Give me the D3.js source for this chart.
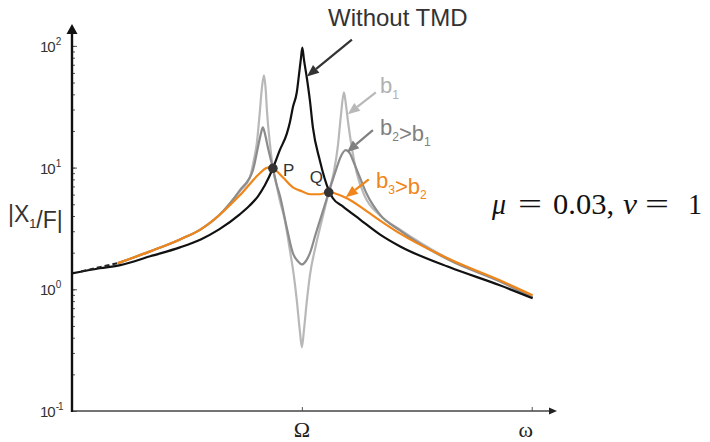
<!DOCTYPE html>
<html>
<head>
<meta charset="utf-8">
<script src="https://cdn.jsdelivr.net/npm/d3@7"></script>
<style>
  body { margin: 0; background: #fff; }
  text { font-family: "Liberation Sans", Arial, sans-serif; }
</style>
</head>
<body>
<div class="center"></div>
<script>
// frequency ratio r (Ω = 1, ω = 2) and amplitude |X1/F|
const withoutTMD = [[0,1.35],[0.12,1.49],[0.21,1.58],[0.34,1.87],[0.47,2.21],[0.56,2.57],[0.64,3.11],[0.73,4.13],
  [0.774,4.90],[0.809,5.81],[0.839,7.15],[0.874,9.87],[0.904,13.9],[0.935,19.1],[0.948,23.6],[0.961,31.3],
  [0.978,41.6],[0.987,57],[0.996,79],[1.002,97],[1.009,77.6],[1.022,54],[1.035,35.7],[1.048,21.4],[1.078,11.5],
  [1.117,6.51],[1.135,5.6],[1.178,4.81],[1.252,3.76],[1.339,2.83],[1.426,2.26],[1.643,1.516],[1.861,1.079],
  [2.004,0.844]];

const b1 = [[0.2,1.64],[0.34,2.05],[0.47,2.57],[0.56,3.11],[0.64,4.06],[0.73,6.39],[0.774,8.33],[0.791,11.5],
  [0.804,15.8],[0.817,28.5],[0.826,44.8],[0.835,57.3],[0.843,43],[0.848,29.6],[0.861,15.8],[0.874,9.87],[0.891,7.02],
  [0.904,5.39],[0.926,3.69],[0.948,2.09],[0.965,1.30],[0.978,0.81],[0.991,0.46],[1.0,0.334],[1.009,0.46],[1.022,0.81],
  [1.035,1.30],[1.061,2.30],[1.087,3.69],[1.117,6.27],[1.139,9.15],[1.157,15.25],[1.170,26.9],[1.183,41.6],
  [1.191,33.8],[1.2,24.5],[1.217,14.7],[1.239,8.98],[1.274,5.81],[1.339,4.06],[1.426,3.11],[1.643,1.764],
  [1.861,1.163],[2.004,0.86]];

const b2 = [[0.2,1.64],[0.34,2.05],[0.47,2.57],[0.56,3.11],[0.64,4.06],[0.73,6.51],[0.787,9.5],[0.809,14.7],
  [0.822,19.1],[0.830,21.4],[0.839,19.1],[0.852,14.7],[0.874,9.87],[0.891,7.15],[0.904,5.92],[0.935,3.17],
  [0.961,1.98],[0.983,1.7],[1.0,1.60],[1.017,1.7],[1.035,1.98],[1.061,2.88],[1.087,4.13],[1.117,6.27],[1.148,9.5],
  [1.170,12.4],[1.191,13.9],[1.209,13.1],[1.222,11.5],[1.252,8.33],[1.283,6.04],[1.339,4.13],[1.426,3.05],
  [1.643,1.73],[1.861,1.163],[2.004,0.86]];

const b3 = [[0.2,1.64],[0.34,2.05],[0.47,2.57],[0.56,3.11],[0.64,4.06],[0.73,5.92],[0.817,8.98],[0.843,9.87],
  [0.861,10.06],[0.874,9.87],[0.917,8.33],[0.961,6.89],[1.0,6.39],[1.035,6.04],[1.078,6.04],[1.117,6.27],
  [1.196,5.6],[1.283,4.37],[1.339,3.69],[1.426,2.88],[1.643,1.764],[1.861,1.186],[2.004,0.893]];

// short dashed start of the damped curves
const dashedStart = [[0.04,1.40],[0.12,1.52],[0.2,1.64]];

// fixed points P and Q
const fixedPoints = [{label: "P", r: 0.874, v: 9.87}, {label: "Q", r: 1.117, v: 6.27}];

const yMajorTicks = [0.1, 1, 10, 100];
const yExponents = ["-1", "0", "1", "2"];
const xTickValues = [1, 2];
const xTickLabels = ["\u03A9", "\u03C9"];

const width = 710, height = 442;

const xScale = d3.scaleLinear().domain([0, 2.11]).range([72, 557]);
const yScale = d3.scaleLog().domain([0.1, 100]).range([411, 45.9]);

const line = d3.line()
  .x(d => xScale(d[0]))
  .y(d => yScale(d[1]))
  .curve(d3.curveMonotoneX);

const svg = d3.select(".center").append("svg")
  .attr("width", width)
  .attr("height", height);

// y axis ticks (minor + major), ticks point inward
const yMinor = d3.axisRight(yScale).tickSize(3).tickFormat("");
svg.append("g").attr("transform", "translate(72,0)").call(yMinor)
  .call(g => g.select(".domain").remove())
  .call(g => g.selectAll("line").attr("stroke", "#555"));
const yMajor = d3.axisRight(yScale).tickValues(yMajorTicks).tickSize(5).tickFormat("");
svg.append("g").attr("transform", "translate(72,0)").call(yMajor)
  .call(g => g.select(".domain").remove())
  .call(g => g.selectAll("line").attr("stroke", "#555"));

// y tick labels 10^n
yMajorTicks.forEach((v, i) => {
  const t = svg.append("text")
    .attr("x", 40)
    .attr("y", yScale(v) + 6)
    .style("font-size", "15px")
    .style("letter-spacing", "-1px")
    .attr("fill", "#333");
  t.append("tspan").text("10");
  t.append("tspan").attr("dx", 1).attr("dy", -7).style("font-size", "10px").text(yExponents[i]);
});

// x axis ticks
const xAxis = d3.axisTop(xScale).tickValues(xTickValues).tickSize(4).tickFormat("");
svg.append("g").attr("transform", "translate(0,411)").call(xAxis)
  .call(g => g.select(".domain").remove())
  .call(g => g.selectAll("line").attr("stroke", "#555"));

svg.selectAll(".xlab")
  .data(xTickValues)
  .enter().append("text")
  .attr("x", (d, i) => xScale(d) - (i == 1 ? 6 : 0))
  .attr("y", 437)
  .attr("text-anchor", "middle")
  .style("font-family", "'Liberation Serif', 'Times New Roman', serif")
  .style("font-size", "22px")
  .attr("fill", "#222")
  .text((d, i) => xTickLabels[i]);

// axis lines with arrows
svg.append("line")
  .attr("x1", 72).attr("y1", 411).attr("x2", 551).attr("y2", 411)
  .attr("stroke", "#444").attr("stroke-width", 1.4);
svg.append("path")
  .attr("d", "M557,411 L549,407.5 L549,414.5 Z")
  .attr("fill", "#222");
svg.append("line")
  .attr("x1", 72).attr("y1", 412).attr("x2", 72).attr("y2", 30)
  .attr("stroke", "#111").attr("stroke-width", 2.4);
svg.append("path")
  .attr("d", "M72,24 L66.5,34 L77.5,34 Z")
  .attr("fill", "#111");

// curves
svg.append("path").datum(b1).attr("d", line)
  .attr("fill", "none").attr("stroke", "#b8b8b8").attr("stroke-width", 2.2);
svg.append("path").datum(b2).attr("d", line)
  .attr("fill", "none").attr("stroke", "#8c8c8c").attr("stroke-width", 2.2);
svg.append("path").datum(withoutTMD).attr("d", line)
  .attr("fill", "none").attr("stroke", "#111").attr("stroke-width", 2.2);
svg.append("path").datum(b3).attr("d", line)
  .attr("fill", "none").attr("stroke", "#f08519").attr("stroke-width", 2.2);
svg.append("path").datum(dashedStart).attr("d", line)
  .attr("fill", "none").attr("stroke", "#222").attr("stroke-width", 2)
  .attr("stroke-dasharray", "5,3");

// P and Q
svg.selectAll(".fp")
  .data(fixedPoints)
  .enter().append("circle")
  .attr("cx", d => xScale(d.r))
  .attr("cy", d => yScale(d.v))
  .attr("r", 4.8)
  .attr("fill", "#333");

svg.append("text").attr("x", xScale(0.874) + 10).attr("y", yScale(9.87) + 8)
  .style("font-size", "17px").attr("fill", "#333").text("P");
svg.append("text").attr("x", xScale(1.117) - 19).attr("y", yScale(6.27) - 9)
  .style("font-size", "17px").attr("fill", "#333").text("Q");

// arrows pointing at curves: tip in data units, tail offset in px
function arrow(r, v, dx, dy, color) {
  const x2 = xScale(r), y2 = yScale(v);
  const x1 = x2 + dx, y1 = y2 + dy;
  const a = Math.atan2(y2 - y1, x2 - x1);
  const L = 12, w = 5;
  const bx = x2 - L * Math.cos(a), by = y2 - L * Math.sin(a);
  svg.append("line")
    .attr("x1", x1).attr("y1", y1).attr("x2", bx).attr("y2", by)
    .attr("stroke", color).attr("stroke-width", 2.2);
  svg.append("path")
    .attr("d", `M${x2},${y2} L${bx + w * Math.sin(a)},${by - w * Math.cos(a)} L${bx - w * Math.sin(a)},${by + w * Math.cos(a)} Z`)
    .attr("fill", color);
}

arrow(1.022, 56, 45, -37, "#333");
arrow(1.2, 27.4, 28, -22, "#b8b8b8");
arrow(1.196, 13.4, 26, -22, "#808080");
arrow(1.191, 5.7, 23, -18, "#f08519");

// labels with subscripts
function subText(x, y, parts, size, color) {
  const t = svg.append("text").attr("x", x).attr("y", y)
    .style("font-size", size + "px").attr("fill", color);
  parts.forEach(p => {
    if (p.sub) {
      t.append("tspan").attr("dy", size * 0.25).style("font-size", (size * 0.55) + "px").text(p.t);
      t.append("tspan").attr("dy", -size * 0.25).text("");
    } else {
      t.append("tspan").text(p.t);
    }
  });
  return t;
}

svg.append("text").attr("x", 328).attr("y", 26)
  .style("font-size", "24px").attr("fill", "#333").text("Without TMD");

subText(380, 93, [{t: "b"}, {t: "1", sub: true}], 22, "#b0b0b0");
subText(380, 135, [{t: "b"}, {t: "2", sub: true}, {t: ">b"}, {t: "1", sub: true}], 22, "#808080");
subText(376, 188, [{t: "b"}, {t: "3", sub: true}, {t: ">b"}, {t: "2", sub: true}], 22, "#f08519");

subText(8, 222, [{t: "|X"}, {t: "1", sub: true}, {t: "/F|"}], 23, "#333");

// μ = 0.03, ν = 1  (each piece stretched to the width seen in the picture)
const mathParts = [
  {t: "\u03BC", x: 492, w: 14, it: true},
  {t: "=", x: 518, w: 24},
  {t: "0.03,", x: 553, w: 61},
  {t: "\u03BD", x: 623, w: 14, it: true},
  {t: "=", x: 645, w: 24},
  {t: "1", x: 688, w: 14}
];
mathParts.forEach(p => {
  svg.append("text")
    .attr("x", p.x).attr("y", 214)
    .attr("textLength", p.w)
    .attr("lengthAdjust", "spacingAndGlyphs")
    .style("font-family", "'Liberation Serif', 'Times New Roman', serif")
    .style("font-style", p.it ? "italic" : "normal")
    .style("font-size", "30px")
    .attr("fill", "#111")
    .text(p.t);
});
</script>
</body>
</html>
